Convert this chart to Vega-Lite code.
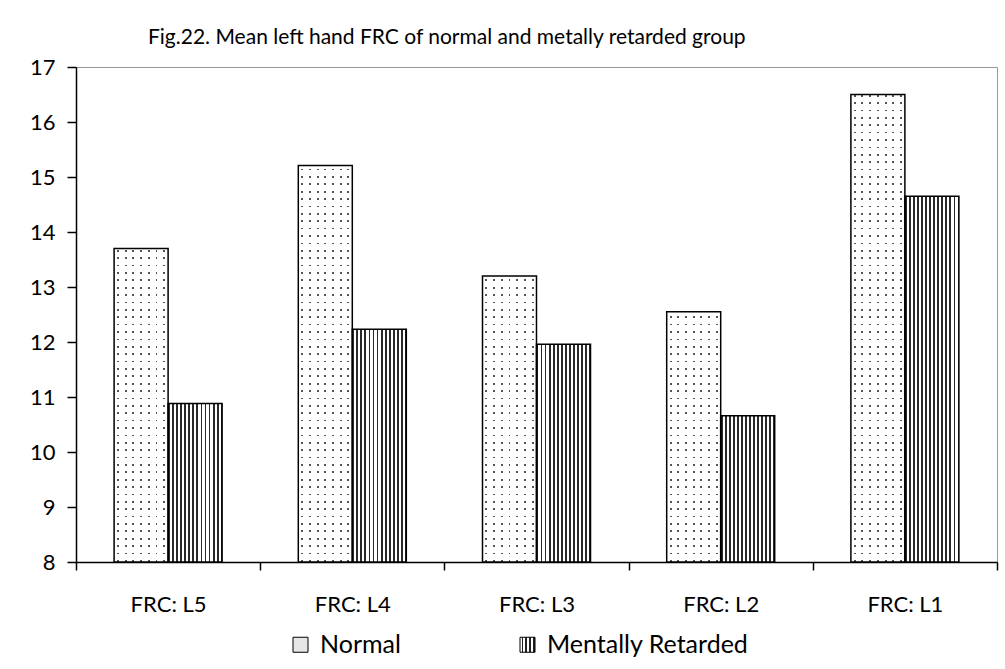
{
  "$schema": "https://vega.github.io/schema/vega-lite/v6.json",
  "width": 921,
  "height": 495,
  "autosize": "none",
  "padding": {"left": 76, "top": 67, "right": 8, "bottom": 107},
  "background": "white",
  "title": {
    "text": "Fig.22. Mean left hand FRC of normal and metally retarded group",
    "anchor": "start",
    "frame": "group",
    "dx": 72,
    "dy": 32,
    "offset": 23,
    "baseline": "alphabetic",
    "font": "Lato",
    "fontSize": 21,
    "fontWeight": "normal",
    "color": "black"
  },
  "data": {
    "values": [
      {"cat": "FRC: L5", "group": "Normal", "value": 13.7},
      {"cat": "FRC: L5", "group": "Mentally Retarded", "value": 10.88},
      {"cat": "FRC: L4", "group": "Normal", "value": 15.21},
      {"cat": "FRC: L4", "group": "Mentally Retarded", "value": 12.23},
      {"cat": "FRC: L3", "group": "Normal", "value": 13.2},
      {"cat": "FRC: L3", "group": "Mentally Retarded", "value": 11.96},
      {"cat": "FRC: L2", "group": "Normal", "value": 12.55},
      {"cat": "FRC: L2", "group": "Mentally Retarded", "value": 10.66},
      {"cat": "FRC: L1", "group": "Normal", "value": 16.5},
      {"cat": "FRC: L1", "group": "Mentally Retarded", "value": 14.65}
    ]
  },
  "encoding": {
    "x": {
      "field": "cat",
      "type": "nominal",
      "sort": null,
      "title": null,
      "scale": {"paddingInner": 0, "paddingOuter": 0},
      "axis": {"labelAngle": 0, "tickBand": "extent", "tickSize": 8, "labelPadding": 24}
    },
    "xOffset": {
      "field": "group",
      "type": "nominal",
      "sort": null,
      "scale": {"domain": ["Normal", "Mentally Retarded"], "paddingInner": 0, "paddingOuter": 0.7055}
    },
    "y": {
      "field": "value",
      "type": "quantitative",
      "title": null,
      "scale": {"domain": [8, 17], "zero": false, "nice": false},
      "axis": {"values": [8, 9, 10, 11, 12, 13, 14, 15, 16, 17], "tickSize": 9, "labelPadding": 12}
    },
    "y2": {"datum": 8}
  },
  "layer": [
    {
      "mark": {"type": "bar", "stroke": null},
      "encoding": {
        "fill": {
          "field": "group",
          "type": "nominal",
          "scale": {
            "domain": ["Normal", "Mentally Retarded"],
            "range": [
              "#e6e6e6",
              {"expr": "{gradient:'linear',x1:0,y1:0,x2:1,y2:0,stops:[{offset:0,color:'#fff'},{offset:0.1,color:'#fff'},{offset:0.1,color:'#222'},{offset:0.22,color:'#222'},{offset:0.22,color:'#fff'},{offset:0.35,color:'#fff'},{offset:0.35,color:'#222'},{offset:0.47,color:'#222'},{offset:0.47,color:'#fff'},{offset:0.6,color:'#fff'},{offset:0.6,color:'#222'},{offset:0.72,color:'#222'},{offset:0.72,color:'#fff'},{offset:0.85,color:'#fff'},{offset:0.85,color:'#222'},{offset:0.97,color:'#222'},{offset:0.97,color:'#fff'},{offset:1,color:'#fff'}]}"}
            ]
          },
          "legend": {
            "title": null,
            "orient": "none",
            "direction": "horizontal",
            "legendX": 212,
            "legendY": 565,
            "padding": 0,
            "symbolType": "square",
            "symbolSize": 225,
            "symbolStrokeColor": "black",
            "symbolStrokeWidth": 1,
            "labelFont": "Lato",
            "labelFontSize": 25,
            "labelColor": "black",
            "labelOffset": 7,
            "labelLimit": 400,
            "columnPadding": 114
          }
        }
      }
    },
    {
      "transform": [{"filter": "datum.group === 'Normal'"}],
      "mark": {
        "type": "bar",
        "stroke": null,
        "fill": {
          "gradient": "linear", "x1": 0, "y1": 0, "x2": 1, "y2": 0,
          "stops": [
            {"offset": 0, "color": "#fff"}, {"offset": 0.0534, "color": "#fff"},
            {"offset": 0.0534, "color": "#555"}, {"offset": 0.0894, "color": "#555"},
            {"offset": 0.0894, "color": "#fff"}, {"offset": 0.1963, "color": "#fff"},
            {"offset": 0.1963, "color": "#555"}, {"offset": 0.2323, "color": "#555"},
            {"offset": 0.2323, "color": "#fff"}, {"offset": 0.3391, "color": "#fff"},
            {"offset": 0.3391, "color": "#555"}, {"offset": 0.3751, "color": "#555"},
            {"offset": 0.3751, "color": "#fff"}, {"offset": 0.482, "color": "#fff"},
            {"offset": 0.482, "color": "#555"}, {"offset": 0.518, "color": "#555"},
            {"offset": 0.518, "color": "#fff"}, {"offset": 0.6249, "color": "#fff"},
            {"offset": 0.6249, "color": "#555"}, {"offset": 0.6609, "color": "#555"},
            {"offset": 0.6609, "color": "#fff"}, {"offset": 0.7677, "color": "#fff"},
            {"offset": 0.7677, "color": "#555"}, {"offset": 0.8037, "color": "#555"},
            {"offset": 0.8037, "color": "#fff"}, {"offset": 0.9106, "color": "#fff"},
            {"offset": 0.9106, "color": "#555"}, {"offset": 0.9466, "color": "#555"},
            {"offset": 0.9466, "color": "#fff"}, {"offset": 1, "color": "#fff"}
          ]
        }
      }
    },
    {
      "transform": [{"filter": "datum.group === 'Normal'"}],
      "mark": {
        "type": "bar",
        "stroke": null,
        "fill": {
          "gradient": "linear", "x1": 0, "y1": 0, "x2": 0, "y2": 1,
          "stops": [
            {"offset": 0, "color": "#fff"},
            {"offset": 0.006, "color": "#fff"}, {"offset": 0.006, "color": "#fff0"}, {"offset": 0.0095, "color": "#fff0"}, {"offset": 0.0095, "color": "#fff"},
            {"offset": 0.021, "color": "#fff"}, {"offset": 0.021, "color": "#fff0"}, {"offset": 0.0245, "color": "#fff0"}, {"offset": 0.0245, "color": "#fff"},
            {"offset": 0.036, "color": "#fff"}, {"offset": 0.036, "color": "#fff0"}, {"offset": 0.0395, "color": "#fff0"}, {"offset": 0.0395, "color": "#fff"},
            {"offset": 0.051, "color": "#fff"}, {"offset": 0.051, "color": "#fff0"}, {"offset": 0.0545, "color": "#fff0"}, {"offset": 0.0545, "color": "#fff"},
            {"offset": 0.066, "color": "#fff"}, {"offset": 0.066, "color": "#fff0"}, {"offset": 0.0695, "color": "#fff0"}, {"offset": 0.0695, "color": "#fff"},
            {"offset": 0.081, "color": "#fff"}, {"offset": 0.081, "color": "#fff0"}, {"offset": 0.0845, "color": "#fff0"}, {"offset": 0.0845, "color": "#fff"},
            {"offset": 0.096, "color": "#fff"}, {"offset": 0.096, "color": "#fff0"}, {"offset": 0.0995, "color": "#fff0"}, {"offset": 0.0995, "color": "#fff"},
            {"offset": 0.111, "color": "#fff"}, {"offset": 0.111, "color": "#fff0"}, {"offset": 0.1145, "color": "#fff0"}, {"offset": 0.1145, "color": "#fff"},
            {"offset": 0.126, "color": "#fff"}, {"offset": 0.126, "color": "#fff0"}, {"offset": 0.1295, "color": "#fff0"}, {"offset": 0.1295, "color": "#fff"},
            {"offset": 0.141, "color": "#fff"}, {"offset": 0.141, "color": "#fff0"}, {"offset": 0.1445, "color": "#fff0"}, {"offset": 0.1445, "color": "#fff"},
            {"offset": 0.156, "color": "#fff"}, {"offset": 0.156, "color": "#fff0"}, {"offset": 0.1595, "color": "#fff0"}, {"offset": 0.1595, "color": "#fff"},
            {"offset": 0.171, "color": "#fff"}, {"offset": 0.171, "color": "#fff0"}, {"offset": 0.1745, "color": "#fff0"}, {"offset": 0.1745, "color": "#fff"},
            {"offset": 0.186, "color": "#fff"}, {"offset": 0.186, "color": "#fff0"}, {"offset": 0.1895, "color": "#fff0"}, {"offset": 0.1895, "color": "#fff"},
            {"offset": 0.201, "color": "#fff"}, {"offset": 0.201, "color": "#fff0"}, {"offset": 0.2045, "color": "#fff0"}, {"offset": 0.2045, "color": "#fff"},
            {"offset": 0.216, "color": "#fff"}, {"offset": 0.216, "color": "#fff0"}, {"offset": 0.2195, "color": "#fff0"}, {"offset": 0.2195, "color": "#fff"},
            {"offset": 0.231, "color": "#fff"}, {"offset": 0.231, "color": "#fff0"}, {"offset": 0.2345, "color": "#fff0"}, {"offset": 0.2345, "color": "#fff"},
            {"offset": 0.246, "color": "#fff"}, {"offset": 0.246, "color": "#fff0"}, {"offset": 0.2495, "color": "#fff0"}, {"offset": 0.2495, "color": "#fff"},
            {"offset": 0.261, "color": "#fff"}, {"offset": 0.261, "color": "#fff0"}, {"offset": 0.2645, "color": "#fff0"}, {"offset": 0.2645, "color": "#fff"},
            {"offset": 0.276, "color": "#fff"}, {"offset": 0.276, "color": "#fff0"}, {"offset": 0.2795, "color": "#fff0"}, {"offset": 0.2795, "color": "#fff"},
            {"offset": 0.291, "color": "#fff"}, {"offset": 0.291, "color": "#fff0"}, {"offset": 0.2945, "color": "#fff0"}, {"offset": 0.2945, "color": "#fff"},
            {"offset": 0.306, "color": "#fff"}, {"offset": 0.306, "color": "#fff0"}, {"offset": 0.3095, "color": "#fff0"}, {"offset": 0.3095, "color": "#fff"},
            {"offset": 0.321, "color": "#fff"}, {"offset": 0.321, "color": "#fff0"}, {"offset": 0.3245, "color": "#fff0"}, {"offset": 0.3245, "color": "#fff"},
            {"offset": 0.336, "color": "#fff"}, {"offset": 0.336, "color": "#fff0"}, {"offset": 0.3395, "color": "#fff0"}, {"offset": 0.3395, "color": "#fff"},
            {"offset": 0.351, "color": "#fff"}, {"offset": 0.351, "color": "#fff0"}, {"offset": 0.3545, "color": "#fff0"}, {"offset": 0.3545, "color": "#fff"},
            {"offset": 0.366, "color": "#fff"}, {"offset": 0.366, "color": "#fff0"}, {"offset": 0.3695, "color": "#fff0"}, {"offset": 0.3695, "color": "#fff"},
            {"offset": 0.381, "color": "#fff"}, {"offset": 0.381, "color": "#fff0"}, {"offset": 0.3845, "color": "#fff0"}, {"offset": 0.3845, "color": "#fff"},
            {"offset": 0.396, "color": "#fff"}, {"offset": 0.396, "color": "#fff0"}, {"offset": 0.3995, "color": "#fff0"}, {"offset": 0.3995, "color": "#fff"},
            {"offset": 0.411, "color": "#fff"}, {"offset": 0.411, "color": "#fff0"}, {"offset": 0.4145, "color": "#fff0"}, {"offset": 0.4145, "color": "#fff"},
            {"offset": 0.426, "color": "#fff"}, {"offset": 0.426, "color": "#fff0"}, {"offset": 0.4295, "color": "#fff0"}, {"offset": 0.4295, "color": "#fff"},
            {"offset": 0.441, "color": "#fff"}, {"offset": 0.441, "color": "#fff0"}, {"offset": 0.4445, "color": "#fff0"}, {"offset": 0.4445, "color": "#fff"},
            {"offset": 0.456, "color": "#fff"}, {"offset": 0.456, "color": "#fff0"}, {"offset": 0.4595, "color": "#fff0"}, {"offset": 0.4595, "color": "#fff"},
            {"offset": 0.471, "color": "#fff"}, {"offset": 0.471, "color": "#fff0"}, {"offset": 0.4745, "color": "#fff0"}, {"offset": 0.4745, "color": "#fff"},
            {"offset": 0.486, "color": "#fff"}, {"offset": 0.486, "color": "#fff0"}, {"offset": 0.4895, "color": "#fff0"}, {"offset": 0.4895, "color": "#fff"},
            {"offset": 0.501, "color": "#fff"}, {"offset": 0.501, "color": "#fff0"}, {"offset": 0.5045, "color": "#fff0"}, {"offset": 0.5045, "color": "#fff"},
            {"offset": 0.516, "color": "#fff"}, {"offset": 0.516, "color": "#fff0"}, {"offset": 0.5195, "color": "#fff0"}, {"offset": 0.5195, "color": "#fff"},
            {"offset": 0.531, "color": "#fff"}, {"offset": 0.531, "color": "#fff0"}, {"offset": 0.5345, "color": "#fff0"}, {"offset": 0.5345, "color": "#fff"},
            {"offset": 0.546, "color": "#fff"}, {"offset": 0.546, "color": "#fff0"}, {"offset": 0.5495, "color": "#fff0"}, {"offset": 0.5495, "color": "#fff"},
            {"offset": 0.561, "color": "#fff"}, {"offset": 0.561, "color": "#fff0"}, {"offset": 0.5645, "color": "#fff0"}, {"offset": 0.5645, "color": "#fff"},
            {"offset": 0.576, "color": "#fff"}, {"offset": 0.576, "color": "#fff0"}, {"offset": 0.5795, "color": "#fff0"}, {"offset": 0.5795, "color": "#fff"},
            {"offset": 0.591, "color": "#fff"}, {"offset": 0.591, "color": "#fff0"}, {"offset": 0.5945, "color": "#fff0"}, {"offset": 0.5945, "color": "#fff"},
            {"offset": 0.606, "color": "#fff"}, {"offset": 0.606, "color": "#fff0"}, {"offset": 0.6095, "color": "#fff0"}, {"offset": 0.6095, "color": "#fff"},
            {"offset": 0.621, "color": "#fff"}, {"offset": 0.621, "color": "#fff0"}, {"offset": 0.6245, "color": "#fff0"}, {"offset": 0.6245, "color": "#fff"},
            {"offset": 0.636, "color": "#fff"}, {"offset": 0.636, "color": "#fff0"}, {"offset": 0.6395, "color": "#fff0"}, {"offset": 0.6395, "color": "#fff"},
            {"offset": 0.651, "color": "#fff"}, {"offset": 0.651, "color": "#fff0"}, {"offset": 0.6545, "color": "#fff0"}, {"offset": 0.6545, "color": "#fff"},
            {"offset": 0.666, "color": "#fff"}, {"offset": 0.666, "color": "#fff0"}, {"offset": 0.6695, "color": "#fff0"}, {"offset": 0.6695, "color": "#fff"},
            {"offset": 0.681, "color": "#fff"}, {"offset": 0.681, "color": "#fff0"}, {"offset": 0.6845, "color": "#fff0"}, {"offset": 0.6845, "color": "#fff"},
            {"offset": 0.696, "color": "#fff"}, {"offset": 0.696, "color": "#fff0"}, {"offset": 0.6995, "color": "#fff0"}, {"offset": 0.6995, "color": "#fff"},
            {"offset": 0.711, "color": "#fff"}, {"offset": 0.711, "color": "#fff0"}, {"offset": 0.7145, "color": "#fff0"}, {"offset": 0.7145, "color": "#fff"},
            {"offset": 0.726, "color": "#fff"}, {"offset": 0.726, "color": "#fff0"}, {"offset": 0.7295, "color": "#fff0"}, {"offset": 0.7295, "color": "#fff"},
            {"offset": 0.741, "color": "#fff"}, {"offset": 0.741, "color": "#fff0"}, {"offset": 0.7445, "color": "#fff0"}, {"offset": 0.7445, "color": "#fff"},
            {"offset": 0.756, "color": "#fff"}, {"offset": 0.756, "color": "#fff0"}, {"offset": 0.7595, "color": "#fff0"}, {"offset": 0.7595, "color": "#fff"},
            {"offset": 0.771, "color": "#fff"}, {"offset": 0.771, "color": "#fff0"}, {"offset": 0.7745, "color": "#fff0"}, {"offset": 0.7745, "color": "#fff"},
            {"offset": 0.786, "color": "#fff"}, {"offset": 0.786, "color": "#fff0"}, {"offset": 0.7895, "color": "#fff0"}, {"offset": 0.7895, "color": "#fff"},
            {"offset": 0.801, "color": "#fff"}, {"offset": 0.801, "color": "#fff0"}, {"offset": 0.8045, "color": "#fff0"}, {"offset": 0.8045, "color": "#fff"},
            {"offset": 0.816, "color": "#fff"}, {"offset": 0.816, "color": "#fff0"}, {"offset": 0.8195, "color": "#fff0"}, {"offset": 0.8195, "color": "#fff"},
            {"offset": 0.831, "color": "#fff"}, {"offset": 0.831, "color": "#fff0"}, {"offset": 0.8345, "color": "#fff0"}, {"offset": 0.8345, "color": "#fff"},
            {"offset": 0.846, "color": "#fff"}, {"offset": 0.846, "color": "#fff0"}, {"offset": 0.8495, "color": "#fff0"}, {"offset": 0.8495, "color": "#fff"},
            {"offset": 0.861, "color": "#fff"}, {"offset": 0.861, "color": "#fff0"}, {"offset": 0.8645, "color": "#fff0"}, {"offset": 0.8645, "color": "#fff"},
            {"offset": 0.876, "color": "#fff"}, {"offset": 0.876, "color": "#fff0"}, {"offset": 0.8795, "color": "#fff0"}, {"offset": 0.8795, "color": "#fff"},
            {"offset": 0.891, "color": "#fff"}, {"offset": 0.891, "color": "#fff0"}, {"offset": 0.8945, "color": "#fff0"}, {"offset": 0.8945, "color": "#fff"},
            {"offset": 0.906, "color": "#fff"}, {"offset": 0.906, "color": "#fff0"}, {"offset": 0.9095, "color": "#fff0"}, {"offset": 0.9095, "color": "#fff"},
            {"offset": 0.921, "color": "#fff"}, {"offset": 0.921, "color": "#fff0"}, {"offset": 0.9245, "color": "#fff0"}, {"offset": 0.9245, "color": "#fff"},
            {"offset": 0.936, "color": "#fff"}, {"offset": 0.936, "color": "#fff0"}, {"offset": 0.9395, "color": "#fff0"}, {"offset": 0.9395, "color": "#fff"},
            {"offset": 0.951, "color": "#fff"}, {"offset": 0.951, "color": "#fff0"}, {"offset": 0.9545, "color": "#fff0"}, {"offset": 0.9545, "color": "#fff"},
            {"offset": 0.966, "color": "#fff"}, {"offset": 0.966, "color": "#fff0"}, {"offset": 0.9695, "color": "#fff0"}, {"offset": 0.9695, "color": "#fff"},
            {"offset": 0.981, "color": "#fff"}, {"offset": 0.981, "color": "#fff0"}, {"offset": 0.9845, "color": "#fff0"}, {"offset": 0.9845, "color": "#fff"},
            {"offset": 0.996, "color": "#fff"}, {"offset": 0.996, "color": "#fff0"}, {"offset": 0.9995, "color": "#fff0"}, {"offset": 0.9995, "color": "#fff"},
            {"offset": 1, "color": "#fff"}
          ]
        }
      },
      "encoding": {
        "y": {"datum": 16.95, "type": "quantitative"},
        "y2": {"datum": 8}
      }
    },
    {
      "transform": [{"filter": "datum.group === 'Mentally Retarded'"}],
      "mark": {
        "type": "bar",
        "stroke": null,
        "fill": {
          "gradient": "linear", "x1": 0, "y1": 0, "x2": 1, "y2": 0,
          "stops": [
            {"offset": 0, "color": "#2a2a2a"}, {"offset": 0.035, "color": "#2a2a2a"}, {"offset": 0.035, "color": "#fff"}, {"offset": 0.075, "color": "#fff"},
            {"offset": 0.075, "color": "#2a2a2a"}, {"offset": 0.11, "color": "#2a2a2a"}, {"offset": 0.11, "color": "#fff"}, {"offset": 0.15, "color": "#fff"},
            {"offset": 0.15, "color": "#2a2a2a"}, {"offset": 0.185, "color": "#2a2a2a"}, {"offset": 0.185, "color": "#fff"}, {"offset": 0.225, "color": "#fff"},
            {"offset": 0.225, "color": "#2a2a2a"}, {"offset": 0.26, "color": "#2a2a2a"}, {"offset": 0.26, "color": "#fff"}, {"offset": 0.3, "color": "#fff"},
            {"offset": 0.3, "color": "#2a2a2a"}, {"offset": 0.335, "color": "#2a2a2a"}, {"offset": 0.335, "color": "#fff"}, {"offset": 0.375, "color": "#fff"},
            {"offset": 0.375, "color": "#2a2a2a"}, {"offset": 0.41, "color": "#2a2a2a"}, {"offset": 0.41, "color": "#fff"}, {"offset": 0.45, "color": "#fff"},
            {"offset": 0.45, "color": "#2a2a2a"}, {"offset": 0.485, "color": "#2a2a2a"}, {"offset": 0.485, "color": "#fff"}, {"offset": 0.525, "color": "#fff"},
            {"offset": 0.525, "color": "#2a2a2a"}, {"offset": 0.56, "color": "#2a2a2a"}, {"offset": 0.56, "color": "#fff"}, {"offset": 0.6, "color": "#fff"},
            {"offset": 0.6, "color": "#2a2a2a"}, {"offset": 0.635, "color": "#2a2a2a"}, {"offset": 0.635, "color": "#fff"}, {"offset": 0.675, "color": "#fff"},
            {"offset": 0.675, "color": "#2a2a2a"}, {"offset": 0.71, "color": "#2a2a2a"}, {"offset": 0.71, "color": "#fff"}, {"offset": 0.75, "color": "#fff"},
            {"offset": 0.75, "color": "#2a2a2a"}, {"offset": 0.785, "color": "#2a2a2a"}, {"offset": 0.785, "color": "#fff"}, {"offset": 0.825, "color": "#fff"},
            {"offset": 0.825, "color": "#2a2a2a"}, {"offset": 0.86, "color": "#2a2a2a"}, {"offset": 0.86, "color": "#fff"}, {"offset": 0.9, "color": "#fff"},
            {"offset": 0.9, "color": "#2a2a2a"}, {"offset": 0.935, "color": "#2a2a2a"}, {"offset": 0.935, "color": "#fff"}, {"offset": 0.975, "color": "#fff"},
            {"offset": 0.975, "color": "#2a2a2a"}, {"offset": 1, "color": "#2a2a2a"}
          ]
        }
      }
    },
    {
      "mark": {"type": "bar", "fill": "transparent", "stroke": "black", "strokeWidth": 1.5}
    }
  ],
  "config": {
    "view": {"stroke": "#999", "strokeWidth": 1},
    "axis": {
      "domainColor": "black",
      "domainWidth": 1.5,
      "tickColor": "black",
      "tickWidth": 1.5,
      "labelColor": "black",
      "labelFont": "Lato",
      "labelFontSize": 22,
      "grid": false,
      "zindex": 1
    }
  }
}
